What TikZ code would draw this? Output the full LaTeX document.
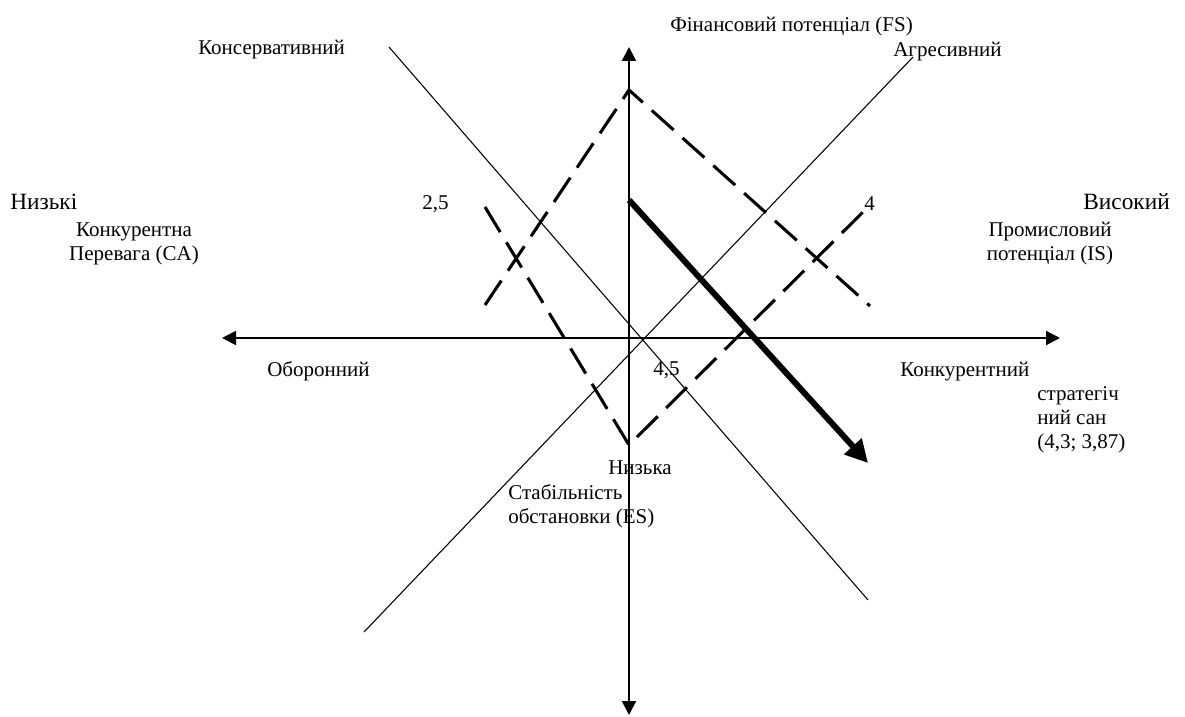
\documentclass[tikz,border=0pt]{standalone}
\usepackage{fontspec}
\setmainfont{Liberation Serif}
\usetikzlibrary{arrows.meta}

\begin{document}
\begin{tikzpicture}[x=0.75pt,y=-0.75pt,
  axis/.style={line width=1.5pt,{Triangle[length=10.5pt,width=10.5pt]}-{Triangle[length=10.5pt,width=10.5pt]}},
  diag/.style={line width=0.8pt},
  bound/.style={line width=2.3pt,dash pattern=on 22pt off 9pt},
  state/.style={line width=4.5pt,-{Triangle[length=17pt,width=17pt]}},
  lbl/.style={inner sep=0pt,font=\fontsize{15.75}{18}\selectfont},
  big/.style={inner sep=0pt,font=\fontsize{17.5}{20}\selectfont}]
  \useasboundingbox (0,0) rectangle (1185,717);
  % axes
  \coordinate (W) at (222,338);
  \coordinate (E) at (1060,338);
  \coordinate (N) at (629,47);
  \coordinate (S) at (629,715);
  \draw[axis] (W)--(E);
  \draw[axis] (S)--(N);
  % strategy lines
  \draw[diag] (389,47)--(868,600);
  \draw[diag] (913,57)--(364,632);
  % dashed profile
  \draw[bound] (485,305)--(629,90)--(870,306);
  \draw[bound] (485,207)--(629,445)--(868,207);
  % strategic state vector
  \draw[state] (629,200)--(868,463);
  % texts
  \node[lbl,anchor=base west] (fs) at (670,32) {Фінансовий потенціал (FS)};
  \node[lbl,anchor=base west] (agr) at (893,57) {Агресивний};
  \node[lbl,anchor=base west] (kons) at (198,55) {Консервативний};
  \node[big,anchor=base west] (low) at (10,209) {Низькі};
  \node[lbl,anchor=base,align=center] (ca) at (134,260) {Конкурентна\\Перевага (CA)};
  \node[lbl,anchor=base west] (v25) at (422,209) {2,5};
  \node[lbl,anchor=base west] (v4) at (864,210) {4};
  \node[big,anchor=base east] (high) at (1170,209) {Високий};
  \node[lbl,anchor=base,align=center] (is) at (1050,260) {Промисловий\\потенціал (IS)};
  \node[lbl,anchor=base west] (def) at (267,376) {Оборонний};
  \node[lbl,anchor=base west] (v45) at (653,375) {4,5};
  \node[lbl,anchor=base west] (comp) at (900,376) {Конкурентний};
  \node[lbl,anchor=base west,align=left] (st) at (1037,448) {стратегіч\\ний сан\\(4,3; 3,87)};
  \node[lbl,anchor=base west] (lowes) at (608,474) {Низька};
  \node[lbl,anchor=base west,align=left] (es) at (508,523) {Стабільність\\обстановки (ES)};
\end{tikzpicture}
\end{document}
